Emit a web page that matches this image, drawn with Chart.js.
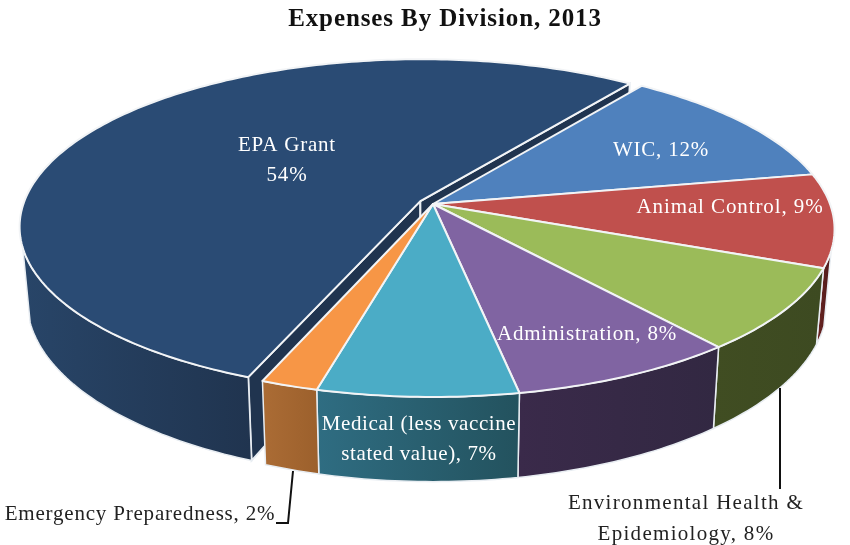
<!DOCTYPE html>
<html>
<head>
<meta charset="utf-8">
<style>
  html, body { margin: 0; padding: 0; background: #fff; }
  canvas { display: block; }
</style>
<script src="https://cdn.jsdelivr.net/npm/chart.js@4"></script>
</head>
<body>
<canvas id="expensesChart" width="850" height="545"></canvas>
<script>
const categories = ["EPA Grant", "WIC", "Animal Control", "Environmental Health & Epidemiology", "Administration", "Medical (less vaccine stated value)", "Emergency Preparedness"];
const percents = [54, 12, 9, 8, 8, 7, 2];
const topColors = ["#2a4b74", "#4f81bd", "#c0504d", "#9bbb59", "#8064a2", "#4bacc6", "#f79646"];
const wallStart = ["#284568", "#3b6090", "#6b2422", "#404d22", "#3a2a4a", "#2f6d82", "#ab6c35"];
const wallEnd = ["#20344f", "#3b6090", "#4d1a1a", "#3d4a21", "#322842", "#23525e", "#9c602c"];
const explode = [9, 0, 0, 0, 0, 0, 0];

// fake 3d view: the flat arcs get pushed through this perspective
const view = { cx: 433, cy: 204, rx: 397, ry: 164, persp: 0.15, depth: 72, taper: 0.018 };
const wallFrom = 16, wallTo = 164;
const rad = Math.PI / 180;

const labels = [
  { lines: ["EPA Grant", "54%"], x: 287, y: [145, 175], color: "#fff", spacing: 0.8 },
  { lines: ["WIC, 12%"], x: 661, y: [150], color: "#fff", spacing: 0.8 },
  { lines: ["Animal Control, 9%"], x: 730, y: [207], color: "#fff", spacing: 0.9 },
  { lines: ["Administration, 8%"], x: 587, y: [334], color: "#fff", spacing: 0.8 },
  { lines: ["Medical (less vaccine", "stated value), 7%"], x: 419, y: [424, 454], color: "#fff", spacing: 0.6 },
  { lines: ["Emergency Preparedness, 2%"], x: 140, y: [514], color: "#222", spacing: 0.8 },
  { lines: ["Environmental Health &", "Epidemiology, 8%"], x: 686, y: [503, 534], color: "#222", spacing: 1.3 }
];

class Arc3D extends Chart.ArcElement {
  static id = "arc3d";

  project(ang, radial, z) {
    const r = this.options.offset / this.outerRadius;
    const mid = (this.startAngle + this.endAngle) / 2;
    const u = Math.cos(ang) * radial + r * Math.cos(mid);
    const v = Math.sin(ang) * radial + r * Math.sin(mid);
    const w = 1 - view.persp * v;
    return {
      x: view.cx + view.rx * u / w * (1 - view.taper * z),
      y: view.cy + view.ry * v / w + z * view.depth / w
    };
  }

  trace(ctx, pts) {
    ctx.beginPath();
    pts.forEach((p, i) => i ? ctx.lineTo(p.x, p.y) : ctx.moveTo(p.x, p.y));
    ctx.closePath();
  }

  sweep(from, to, z) {
    const pts = [];
    const n = Math.max(2, Math.ceil((to - from) / rad));
    for (let i = 0; i <= n; i++) pts.push(this.project(from + (to - from) * i / n, 1, z));
    return pts;
  }

  drawCuts(ctx) {
    if (!this.options.offset) return;
    [this.startAngle, this.endAngle].forEach(a => {
      this.trace(ctx, [this.project(a, 1, 0), this.project(a, 0, 0), this.project(a, 0, 1), this.project(a, 1, 1)]);
      ctx.fillStyle = wallEnd[this.$context.index];
      ctx.fill();
      ctx.strokeStyle = "#e8edf2";
      ctx.lineWidth = 2;
      ctx.stroke();
    });
  }

  drawWall(ctx) {
    const i = this.$context.index;
    [0, 360].forEach(shift => {
      const a0 = Math.max(this.startAngle, (wallFrom + shift) * rad);
      const a1 = Math.min(this.endAngle, (wallTo + shift) * rad);
      if (a1 <= a0) return;
      const up = this.sweep(a0, a1, 0);
      const down = this.sweep(a0, a1, 1).reverse();
      const xs = up.concat(down).map(p => p.x);
      const grad = ctx.createLinearGradient(Math.min(...xs), 0, Math.max(...xs), 0);
      grad.addColorStop(0, wallStart[i]);
      grad.addColorStop(1, wallEnd[i]);
      this.trace(ctx, up.concat(down));
      ctx.fillStyle = grad;
      ctx.fill();
      ctx.strokeStyle = "#e8edf2";
      ctx.lineWidth = 1.5;
      ctx.stroke();
    });
  }

  draw(ctx) {
    const pts = [this.project(0, 0, 0)].concat(this.sweep(this.startAngle, this.endAngle, 0));
    this.trace(ctx, pts);
    ctx.fillStyle = this.options.backgroundColor;
    ctx.fill();
    ctx.strokeStyle = this.options.borderColor;
    ctx.lineWidth = this.options.borderWidth;
    ctx.lineJoin = "round";
    ctx.stroke();
  }
}

class Pie3DController extends Chart.PieController {
  static id = "pie3d";
  static defaults = { ...Chart.PieController.defaults, dataElementType: "arc3d" };

  draw() {
    const ctx = this.chart.ctx;
    const arcs = this.getMeta().data;
    ctx.save();
    arcs.forEach(a => a.drawCuts(ctx));
    arcs.forEach(a => a.drawWall(ctx));
    arcs.forEach(a => a.draw(ctx));
    ctx.restore();
  }
}

Chart.register(Arc3D, Pie3DController);

const calloutPlugin = {
  id: "callouts",
  beforeDraw(chart) {
    // title plugin has no spacing option, so set it on the context
    chart.ctx.letterSpacing = "0.9px";
  },
  beforeDatasetsDraw(chart) {
    chart.ctx.letterSpacing = "0px";
  },
  afterDatasetsDraw(chart) {
    const ctx = chart.ctx;
    ctx.save();
    ctx.strokeStyle = "#111";
    ctx.lineWidth = 2;
    ctx.beginPath();
    ctx.moveTo(780, 388);
    ctx.lineTo(780, 489);
    ctx.moveTo(293, 471);
    ctx.lineTo(288, 523);
    ctx.lineTo(276, 523);
    ctx.stroke();

    ctx.font = "21px 'Liberation Serif'";
    ctx.textAlign = "center";
    ctx.textBaseline = "middle";
    labels.forEach(l => {
      ctx.fillStyle = l.color;
      ctx.letterSpacing = l.spacing + "px";
      l.lines.forEach((t, i) => ctx.fillText(t, l.x, l.y[i]));
    });
    ctx.restore();
  }
};

new Chart(document.getElementById("expensesChart").getContext("2d"), {
  type: "pie3d",
  data: {
    labels: categories,
    datasets: [{
      data: percents,
      backgroundColor: topColors,
      borderColor: "#f2f4f6",
      borderWidth: 2,
      offset: explode
    }]
  },
  options: {
    responsive: false,
    animation: false,
    events: [],
    rotation: 201.7,
    layout: { padding: { left: 40 } },
    plugins: {
      legend: { display: false },
      tooltip: { enabled: false },
      title: {
        display: true,
        text: "Expenses By Division, 2013",
        color: "#111",
        font: { family: "'Liberation Serif'", size: 25, weight: "bold" },
        padding: { top: 5, bottom: 6 }
      }
    }
  },
  plugins: [calloutPlugin]
});
</script>
</body>
</html>
